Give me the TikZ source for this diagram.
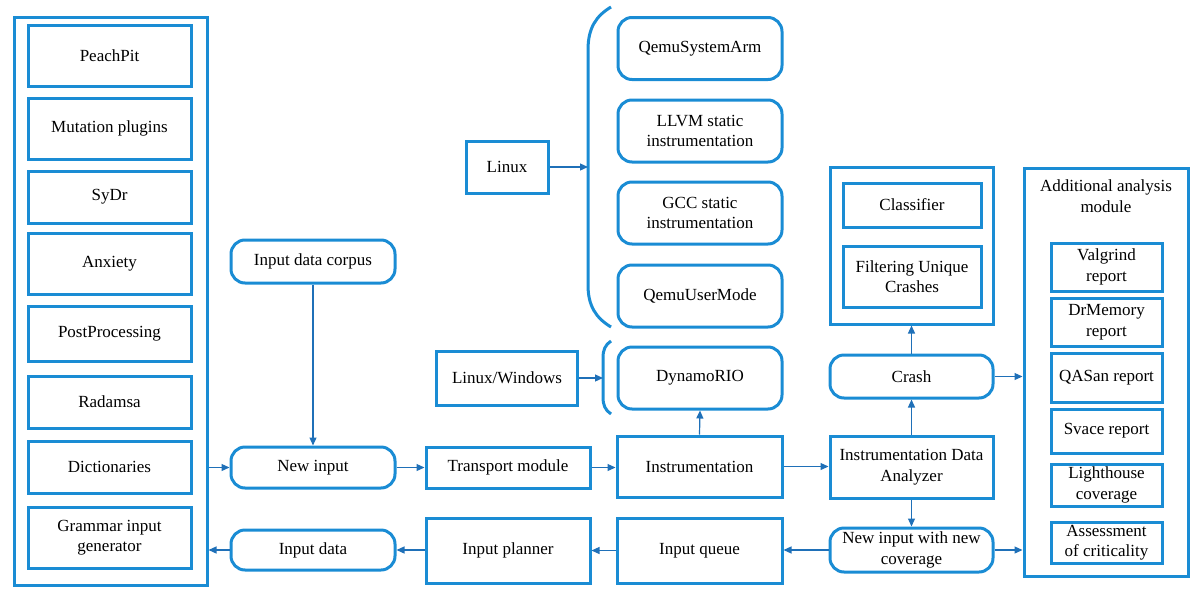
\documentclass[tikz,border=0pt]{standalone}
\usepackage{fontspec}
\setmainfont{Liberation Serif}
\newfontfamily\lser{Liberation Serif}
\usetikzlibrary{arrows.meta}
\definecolor{boxblue}{RGB}{26,140,212}
\definecolor{arrblue}{RGB}{31,112,184}
\begin{document}
\begin{tikzpicture}[x=1pt,y=-1pt,
  every node/.style={font=\lser\fontsize{17}{20.5}\selectfont, align=center, inner sep=0pt},
  rbox/.style={draw=boxblue, line width=3pt, rectangle},
  rrbox/.style={draw=boxblue, line width=3pt, rectangle, rounded corners=14pt},
  bigbox/.style={draw=boxblue, line width=3pt, rectangle},
  conn/.style={draw=arrblue, line width=1.2pt, -{Triangle[length=8pt,width=7pt]}},
  brack/.style={draw=boxblue, line width=3pt}]
\useasboundingbox (0,0) rectangle (1200,600);
% left container
\node[bigbox, minimum width=193pt, minimum height=568pt] (outer) at (110.5,301) {};
\node[rbox, minimum width=163pt, minimum height=61pt] (peach) at (109.5,55.5) {PeachPit};
\node[rbox, minimum width=163pt, minimum height=61pt] (mut) at (109.5,128.5) {Mutation plugins};
\node[rbox, minimum width=163pt, minimum height=52pt] (sydr) at (109.5,197) {SyDr};
\node[rbox, minimum width=163pt, minimum height=61pt] (anx) at (109.5,263.5) {Anxiety};
\node[rbox, minimum width=163pt, minimum height=55pt] (post) at (109.5,333.5) {PostProcessing};
\node[rbox, minimum width=163pt, minimum height=52pt] (rad) at (109.5,402) {Radamsa};
\node[rbox, minimum width=163pt, minimum height=52pt] (dict) at (109.5,467) {Dictionaries};
\node[rbox, minimum width=163pt, minimum height=61pt] (gram) at (109.5,537.5) {Grammar input\\generator};
% middle column
\node[rrbox, minimum width=164pt, minimum height=43pt] (corpus) at (313,261.5) {Input data corpus};
\node[rrbox, minimum width=164pt, minimum height=41pt] (newin) at (313,467.5) {New input};
\node[rrbox, minimum width=164pt, minimum height=40pt] (indata) at (313,550) {Input data};
\node[rbox, minimum width=164pt, minimum height=41pt] (trans) at (508,467.5) {Transport module};
\node[rbox, minimum width=164pt, minimum height=65pt] (planner) at (508,550.5) {Input planner};
\node[rbox, minimum width=165pt, minimum height=61pt] (instr) at (699.5,466.5) {Instrumentation};
\node[rbox, minimum width=165pt, minimum height=65pt] (queue) at (699.5,550.5) {Input queue};
\node[rrbox, minimum width=164pt, minimum height=62pt] (dyn) at (700,378) {DynamoRIO};
\node[rbox, minimum width=141pt, minimum height=54pt] (lw) at (507,378) {Linux/Windows};
\node[rbox, minimum width=82pt, minimum height=52pt] (linux) at (507,167) {Linux};
% qemu etc
\node[rrbox, minimum width=164pt, minimum height=62pt] (qsa) at (700,48.5) {QemuSystemArm};
\node[rrbox, minimum width=164pt, minimum height=62pt] (llvm) at (700,131) {LLVM static\\instrumentation};
\node[rrbox, minimum width=164pt, minimum height=62pt] (gcc) at (700,213) {GCC static\\instrumentation};
\node[rrbox, minimum width=164pt, minimum height=62pt] (qum) at (700,296) {QemuUserMode};
% brackets
\draw[brack] (611,7) .. controls (596,16) and (588,28) .. (588,50) -- (588,285) .. controls (588,306) and (596,318) .. (611,327);
\coordinate (bigb) at (588,167);
\draw[brack] (611,341) .. controls (605,345) and (603,350) .. (603,358) -- (603,397) .. controls (603,405) and (605,410) .. (611,414);
\coordinate (smb) at (603,378);
% crash side
\node[bigbox, minimum width=163pt, minimum height=157pt] (crashbox) at (911.5,245.5) {};
\node[rbox, minimum width=138pt, minimum height=44pt] (class) at (912,205) {Classifier};
\node[rbox, minimum width=138pt, minimum height=61pt] (filt) at (912,276.5) {Filtering Unique\\Crashes};
\node[rrbox, minimum width=163pt, minimum height=43pt] (crash) at (911.5,376.5) {Crash};
\node[rbox, minimum width=163pt, minimum height=62pt] (ida) at (911.5,467) {Instrumentation Data\\Analyzer};
\node[rrbox, minimum width=163pt, minimum height=44pt] (newcov) at (911.5,550) {New input with new\\coverage};
% additional analysis
\node[bigbox, minimum width=164pt, minimum height=408pt] (addl) at (1106,372) {};
\node (addlt) at (1106,196) {Additional analysis\\module};
\node[rbox, minimum width=111pt, minimum height=48pt] (valg) at (1106.5,267) {Valgrind\\report};
\node[rbox, minimum width=111pt, minimum height=48pt] (drm) at (1106.5,322) {DrMemory\\report};
\node[rbox, minimum width=111pt, minimum height=49pt] (qasan) at (1106.5,377.5) {QASan report};
\node[rbox, minimum width=111pt, minimum height=44pt] (svace) at (1106.5,431) {Svace report};
\node[rbox, minimum width=111pt, minimum height=42pt] (light) at (1106.5,485) {Lighthouse\\coverage};
\node[rbox, minimum width=111pt, minimum height=41pt] (assess) at (1106.5,542.5) {Assessment\\of criticality};
% connectors
\draw[conn] (newin.west -| outer.east) -- (newin.west);
\draw[conn] (corpus.south) -- (newin.north);
\draw[conn] (newin.east) -- (trans.west);
\draw[conn] (trans.east) -- (trans.east -| instr.west);
\draw[conn] (instr.north) -- (dyn.south);
\draw[conn] (instr.east) -- (instr.east -| ida.west);
\draw[conn] (ida.north) -- (crash.south);
\draw[conn] (crash.north) -- (crashbox.south);
\draw[conn] (ida.south) -- (newcov.north);
\draw[conn] (crash.east) -- (crash.east -| addl.west);
\draw[conn] (newcov.east) -- (newcov.east -| addl.west);
\draw[conn] (newcov.west) -- (newcov.west -| queue.east);
\draw[conn] (queue.west) -- (queue.west -| planner.east);
\draw[conn] (planner.west |- indata.east) -- (indata.east);
\draw[conn] (indata.west) -- (indata.west -| outer.east);
\draw[conn] (lw.east) -- (smb);
\draw[conn] (linux.east) -- (bigb);
\end{tikzpicture}
\end{document}
